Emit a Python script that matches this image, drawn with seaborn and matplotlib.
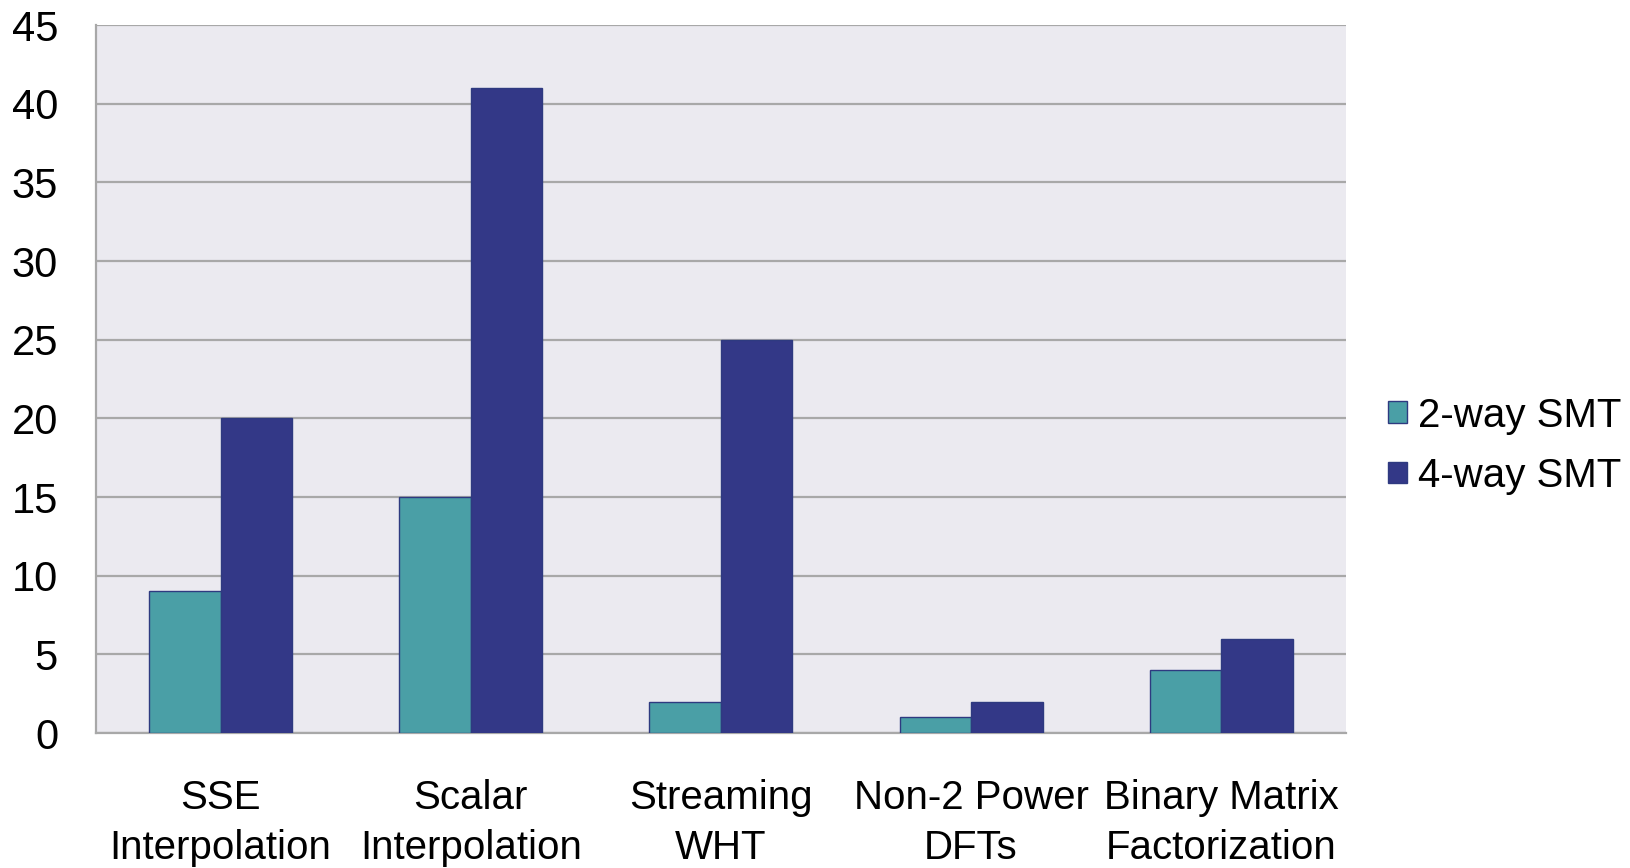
import matplotlib
matplotlib.use("Agg")
import matplotlib.pyplot as plt
import seaborn as sns
import pandas as pd

categories = ["SSE\nInterpolation", "Scalar\nInterpolation", "Streaming\nWHT",
              "Non-2 Power\nDFTs", "Binary Matrix\nFactorization"]
two_way = [9, 15, 2, 1, 4]
four_way = [20, 41, 25, 2, 6]
series = ["2-way SMT", "4-way SMT"]
yticks = [0, 5, 10, 15, 20, 25, 30, 35, 40, 45]

df = pd.DataFrame({
    "category": categories * 2,
    "value": two_way + four_way,
    "series": [series[0]] * len(categories) + [series[1]] * len(categories),
})

sns.set_theme(style="white")
plt.rcParams["font.family"] = ["Liberation Sans", "DejaVu Sans"]
plt.rcParams["text.color"] = "black"
plt.rcParams["xtick.color"] = "black"
plt.rcParams["ytick.color"] = "black"

fig = plt.figure(figsize=(16.3, 8.68), dpi=100)
ax = fig.add_axes([0.0586, 0.1555, 0.7674, 0.8155])
ax.set_facecolor("#EBEAF0")

palette = {series[0]: "#4A9FA6", series[1]: "#333887"}
sns.barplot(data=df, x="category", y="value", hue="series", palette=palette,
            width=0.572, saturation=1, edgecolor="#2E3A80", linewidth=1.0,
            ax=ax, zorder=3)

ax.set_ylim(0, 45)
ax.set_yticks(yticks)
ax.yaxis.grid(True, color="#A8A8A8", linewidth=1.6, zorder=0)
ax.set_axisbelow(True)
ax.set_xlabel("")
ax.set_ylabel("")
for s in ["top", "right"]:
    ax.spines[s].set_visible(False)
for s in ["left", "bottom"]:
    ax.spines[s].set_color("#A8A8A8")
    ax.spines[s].set_linewidth(1.6)
ax.tick_params(axis="y", labelsize=30, length=0, pad=27, labelcolor="black")
ax.tick_params(axis="x", labelsize=29, length=0, pad=33, labelcolor="black")
for t in ax.get_xticklabels():
    t.set_linespacing(1.42)

leg = ax.legend(loc="center left", bbox_to_anchor=(1.0336, 0.406), frameon=False,
                fontsize=29, handlelength=0.45, handleheight=0.45,
                handletextpad=0.29, labelspacing=0.55, borderaxespad=0,
                borderpad=0)
for txt in leg.get_texts():
    txt.set_color("black")

fig.savefig("out.png", dpi=100, facecolor="white")
